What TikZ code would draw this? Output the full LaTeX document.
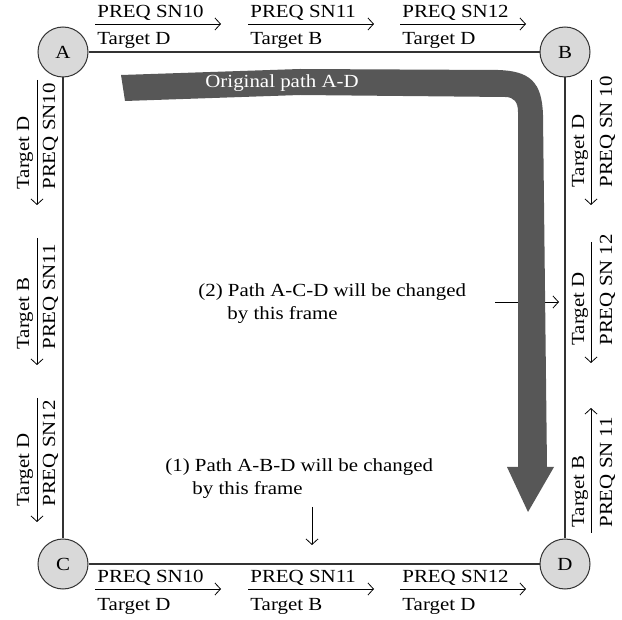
\documentclass[tikz,border=0pt]{standalone}
\usepackage{fontspec}
\setmainfont{Liberation Serif}[FakeStretch=1.13]
\usetikzlibrary{arrows.meta}
\tikzset{
	station/.style={circle,draw=black!80,fill=black!15,line width=1pt,minimum size=50pt,inner sep=0pt},
	link/.style={draw=black!80,line width=1.2pt},
	tag/.style={inner sep=0pt},
}
\begin{document}
\begin{tikzpicture}[x=1pt,y=-1pt,>={Straight Barb[length=5.5pt,width=12pt]},line width=0.8pt,font=\fontsize{18.5}{22}\selectfont]
	\useasboundingbox (0,0) rectangle (622,620);
	% the four mesh stations and their links
	\node[station] (A) at (63,52) {A};
	\node[station] (B) at (565,52) {B};
	\node[station] (C) at (63,564) {C};
	\node[station] (D) at (565,564) {D};
	\draw[link] (A)--(B) (A)--(C) (B)--(D) (C)--(D);
	% PREQ frames along A-B (top) and C-D (bottom)
	\foreach \x/\sn/\tg [count=\i] in {95/10/D,248/11/B,400/12/D}{
		\coordinate (ts\i) at (\x,24); \coordinate (te\i) at (\x+126,24);
		\draw[->] (ts\i)--(te\i);
		\node[tag,anchor=base west] (tp\i) at (\x+2,18) {PREQ SN\sn};
		\node[tag,anchor=base west] (tt\i) at (\x+2,45) {Target \tg};
		\coordinate (bs\i) at (\x,589); \coordinate (be\i) at (\x+126,589);
		\draw[->] (bs\i)--(be\i);
		\node[tag,anchor=base west] (bp\i) at (\x+2,583) {PREQ SN\sn};
		\node[tag,anchor=base west] (bt\i) at (\x+2,610) {Target \tg};
	}
	% along A-C
	\foreach \ya/\yb/\sn/\tg [count=\i] in {80/205/10/D,238/365/11/B,398/522/12/D}{
		\coordinate (ls\i) at (37,\ya); \coordinate (le\i) at (37,\yb);
		\draw[->] (ls\i)--(le\i);
		\node[tag,rotate=90,anchor=base west] (lt\i) at (29,\yb-15) {Target \tg};
		\node[tag,rotate=90,anchor=base west] (lp\i) at (55,\yb-15) {PREQ SN\sn};
	}
	% along B-D, the last one runs back up
	\foreach \ya/\yb/\ys/\sn/\tg [count=\i] in {80/205/188/10/D,242/363/346/12/D,533/408/528/11/B}{
		\coordinate (rs\i) at (591,\ya); \coordinate (re\i) at (591,\yb);
		\draw[->] (rs\i)--(re\i);
		\node[tag,rotate=90,anchor=base west] (rt\i) at (584,\ys) {Target \tg};
		\node[tag,rotate=90,anchor=base west] (rp\i) at (612,\ys) {PREQ SN \sn};
	}
	% notes
	\node[tag,anchor=base west] (n2a) at (198,297) {(2) Path A-C-D will be changed};
	\node[tag,anchor=base west] (n2b) at (227,320) {by this frame};
	\coordinate (m2s) at (495,302); \coordinate (m2e) at (559,302);
	\draw[->] (m2s)--(m2e);
	\node[tag,anchor=base west] (n1a) at (165,472) {(1) Path A-B-D will be changed};
	\node[tag,anchor=base west] (n1b) at (192,495) {by this frame};
	\coordinate (m1s) at (312,507); \coordinate (m1e) at (312,545);
	\draw[->] (m1s)--(m1e);
	% original path A-D
	\fill[black!66] (121,75)--(300,69)--(498,70) .. controls (530,71) and (542,82) .. (543,115)
		--(547,467)--(554,467)--(528,512)--(507,467)--(518,467)--(518,112)
		.. controls (518,102) and (514,97) .. (505,97)--(300,95)--(125,101)--cycle;
	\node[tag,anchor=base west,text=white] (orig) at (205,88) {Original path A-D};
\end{tikzpicture}
\end{document}
